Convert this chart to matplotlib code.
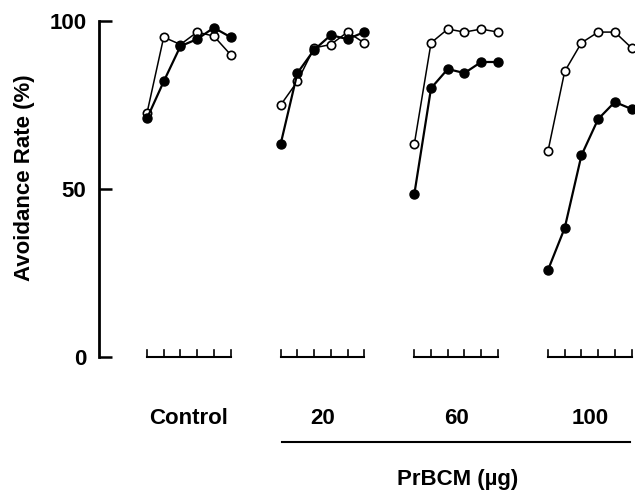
import matplotlib
matplotlib.use("Agg")
import matplotlib.pyplot as plt

plt.rcParams['font.family'] = ['Liberation Sans', 'DejaVu Sans']

grupos = ["Control", "20", "60", "100"]
sessoes = [1, 2, 3, 4, 5, 6]

# abertos e cheios, um por grupo
abertos = [
    [72.6, 95.2, 93.0, 96.7, 95.5, 90.0],
    [75.0, 82.0, 92.0, 93.0, 96.7, 93.5],
    [63.4, 93.5, 97.6, 96.7, 97.6, 96.7],
    [61.3, 85.0, 93.5, 96.7, 96.7, 92.0],
]
cheios = [
    [71.0, 82.0, 92.5, 94.6, 98.0, 95.2],
    [63.4, 84.5, 91.4, 95.8, 94.6, 96.7],
    [48.5, 80.0, 85.7, 84.5, 87.8, 87.8],
    [25.9, 38.4, 60.0, 70.8, 75.9, 73.8],
]
yticks = [0, 50, 100]

W, H = 635, 493
fig = plt.figure(figsize=(W / 100, H / 100), dpi=100)
ax = fig.add_axes([99 / W, (H - 357) / H, (W - 99) / W, (357 - 21) / H])

passo = 8
unid = (548 - 147) / 24
ax.set_xlim((99 - 147) / unid, (W - 147) / unid)
ax.set_ylim(0, 100)

for g in range(len(grupos)):
    xs = [g * passo + s - 1 for s in sessoes]
    ax.plot(xs, abertos[g], "-o", color="black", mfc="white", mec="black",
            mew=1.2, ms=6, lw=1.1, clip_on=False, zorder=3)
    ax.plot(xs, cheios[g], "-o", color="black", ms=6.5, lw=1.6,
            clip_on=False, zorder=4)
    # colchete com os tiques de sessao
    ax.plot([xs[0], xs[-1]], [0, 0], color="black", lw=1.5, clip_on=False)
    for x in xs:
        ax.plot([x, x], [0, 2.2], color="black", lw=1.2, clip_on=False)
    ax.text((xs[0] + xs[-1]) / 2, -18.2, grupos[g], ha="center", va="center",
            fontsize=16, fontweight="bold")

ax.plot([(282 - 147) / unid, (630 - 147) / unid], [-25.3, -25.3],
        color="black", lw=1.5, clip_on=False)
ax.text((458 - 147) / unid, -36.6, "PrBCM (µg)", ha="center", va="center",
        fontsize=16, fontweight="bold")

for lado in ["top", "right", "bottom"]:
    ax.spines[lado].set_visible(False)
ax.spines["left"].set_linewidth(2)
ax.set_xticks([])
ax.set_yticks(yticks)
ax.set_yticklabels([str(v) for v in yticks], fontsize=16, fontweight="bold")
ax.tick_params(axis="y", direction="in", length=9, width=1.8, pad=9)

fig.text(25 / W, 1 - 178 / H, "Avoidance Rate (%)", rotation=90,
         ha="center", va="center", fontsize=16, fontweight="bold")

fig.savefig("out.png", dpi=100)
